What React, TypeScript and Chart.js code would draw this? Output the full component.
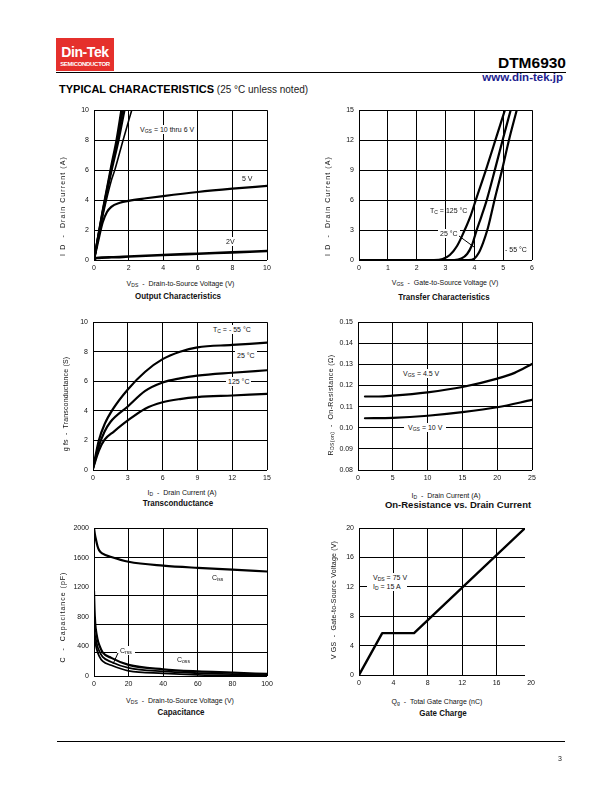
import React, { useEffect, useRef } from "react";
import { Chart, registerables } from "chart.js";

Chart.register(...registerables);

type Pt = [number, number];

// ---------------- Output Characteristics ----------------
const outTicksX = [0, 2, 4, 6, 8, 10];
const outTicksY = [0, 2, 4, 6, 8, 10];
const outVgs10: Pt[] = [[0, 0], [0.5, 3.3], [1.0, 6.3], [1.3, 8.0], [1.58, 10]];
const outVgs8: Pt[] = [[0, 0], [0.5, 3.2], [1.0, 6.1], [1.35, 8.0], [1.66, 10]];
const outVgs7: Pt[] = [[0, 0], [0.5, 3.1], [1.0, 5.9], [1.42, 8.0], [1.76, 10]];
const outVgs6: Pt[] = [[0, 0], [0.5, 2.9], [1.0, 5.3], [1.2, 6.0], [1.68, 8.0], [2.18, 10]];
const outVgs5: Pt[] = [[0, 0], [0.25, 1.3], [0.5, 2.5], [0.75, 3.2], [1.0, 3.55], [1.5, 3.82], [2, 3.95], [3, 4.12], [4, 4.27], [6, 4.54], [8, 4.76], [10, 4.95]];
const outVgs2: Pt[] = [[0, 0], [0.15, 0.13], [1, 0.18], [2, 0.23], [4, 0.33], [6, 0.42], [8, 0.51], [10, 0.6]];

// ---------------- Transfer Characteristics ----------------
const trTicksX = [0, 1, 2, 3, 4, 5, 6];
const trTicksY = [0, 3, 6, 9, 12, 15];
const trTc125: Pt[] = [[0, 0], [2.6, 0], [2.9, 0.1], [3.15, 0.5], [3.4, 1.4], [3.65, 2.9], [3.88, 4.5], [4.05, 6], [4.4, 9], [4.73, 12], [5.06, 15]];
const trTc25: Pt[] = [[0, 0], [3.3, 0], [3.55, 0.15], [3.75, 0.6], [3.92, 1.5], [4.06, 2.8], [4.25, 4.4], [4.43, 6], [4.71, 9], [4.98, 12], [5.26, 15]];
const trTcM55: Pt[] = [[0, 0], [3.8, 0], [4.0, 0.15], [4.15, 0.7], [4.3, 1.7], [4.45, 3], [4.58, 4.5], [4.7, 6], [4.96, 9], [5.2, 12], [5.47, 15]];

// ---------------- Transconductance ----------------
const gfsTicksX = [0, 3, 6, 9, 12, 15];
const gfsTicksY = [0, 2, 4, 6, 8, 10];
const gfsTcM55: Pt[] = [[0, 0.1], [0.5, 2.0], [1, 3.1], [1.7, 4.1], [3, 5.45], [4.5, 6.65], [6, 7.5], [7.5, 8.0], [9, 8.3], [12, 8.46], [15, 8.62]];
const gfsTc25: Pt[] = [[0, 0.1], [0.5, 1.6], [1, 2.6], [1.5, 3.25], [3, 4.3], [4.5, 5.35], [6, 5.92], [7.5, 6.2], [9, 6.38], [12, 6.58], [15, 6.75]];
const gfsTc125: Pt[] = [[0, 0.1], [0.5, 1.3], [1, 2.05], [1.8, 2.6], [3, 3.35], [4.5, 4.15], [6, 4.58], [7.5, 4.8], [9, 4.93], [12, 5.04], [15, 5.15]];

// ---------------- On-Resistance vs Drain Current ----------------
const rdsTicksX = [0, 5, 10, 15, 20, 25];
const rdsTicksY = [0.08, 0.09, 0.1, 0.11, 0.12, 0.13, 0.14, 0.15];
const rdsVgs45: Pt[] = [[1, 0.1148], [3, 0.1148], [5, 0.1152], [10, 0.1168], [15, 0.1193], [20, 0.1233], [22.5, 0.126], [25, 0.1302]];
const rdsVgs10: Pt[] = [[1, 0.1045], [5, 0.1047], [10, 0.1057], [15, 0.1074], [20, 0.1097], [25, 0.1132]];

// ---------------- Capacitance ----------------
const capTicksX = [0, 20, 40, 60, 80, 100];
const capTicksY = [0, 400, 800, 1200, 1600, 2000];
const capGridY = [322, 706, 1100]; // grid lines as printed in the original
const capGridSkip = [400, 800, 1200];
const capCiss: Pt[] = [[0, 2000], [0.5, 1920], [1, 1860], [2, 1760], [3, 1700], [5, 1655], [10, 1610], [20, 1546], [40, 1493], [60, 1463], [80, 1440], [100, 1414]];
const capCoss: Pt[] = [[0, 1150], [0.3, 900], [0.7, 720], [1, 640], [2, 500], [3, 420], [5, 320], [10, 245], [20, 150], [40, 90], [60, 62], [80, 46], [100, 28]];
const capCrssA: Pt[] = [[0, 700], [0.5, 560], [1, 500], [2, 400], [3, 340], [5, 260], [10, 190], [20, 110], [40, 62], [60, 40], [80, 25], [100, 10]];
const capCrssB: Pt[] = [[0, 600], [0.5, 480], [1, 420], [2, 330], [3, 270], [5, 200], [10, 145], [20, 70], [40, 36], [60, 15], [80, 5], [100, 0]];

// ---------------- Gate Charge ----------------
const gcTicksX = [0, 4, 8, 12, 16, 20];
const gcTicksY = [0, 4, 8, 12, 16, 20];
const gcCharge: Pt[] = [[0, 0], [2.7, 5.7], [6.4, 5.7], [19.3, 20]];
const gcXMax = 19.3;

// ---------------- rendering ----------------
const FONT = "'Liberation Sans', Arial, Helvetica, sans-serif";
const INK = "#111";

interface Series { pts: Pt[]; width?: number; smooth?: boolean }
interface PlotSpec {
  left: number; top: number; w: number; h: number;
  xMin: number; xMax: number; yMin: number; yMax: number;
  xTicks: number[]; yTicks: number[]; yDigits?: number;
  series: Series[];
  yGridSkip?: number[]; yGridExtra?: number[];
}

const YW = 36, PT = 6, PR = 16, XH = 18;

function Plot({ spec }: { spec: PlotSpec }) {
  const ref = useRef<HTMLCanvasElement | null>(null);
  const cw = YW + spec.w + PR;
  const ch = PT + spec.h + XH;
  useEffect(() => {
    const canvas = ref.current;
    if (!canvas) return;
    const extraGrid = {
      id: "extraGrid",
      beforeDatasetsDraw(chart: any) {
        if (!spec.yGridExtra) return;
        const { ctx, chartArea: a } = chart;
        const y = chart.scales.y;
        ctx.save();
        ctx.strokeStyle = "#000";
        ctx.lineWidth = 1;
        for (const v of spec.yGridExtra) {
          const py = Math.round(y.getPixelForValue(v)) + 0.5;
          ctx.beginPath();
          ctx.moveTo(a.left, py);
          ctx.lineTo(a.right, py);
          ctx.stroke();
        }
        ctx.restore();
      },
    };
    const tickFont = { family: FONT, size: 7 };
    const chart = new Chart(canvas, {
      type: "line",
      data: {
        datasets: spec.series.map((s) => ({
          data: s.pts.map(([x, y]) => ({ x, y })),
          borderColor: "#000",
          backgroundColor: "#000",
          borderWidth: s.width ?? 2.2,
          pointRadius: 0,
          pointHoverRadius: 0,
          fill: false,
          tension: s.smooth === false ? 0 : 0.4,
          cubicInterpolationMode: s.smooth === false ? "default" : "monotone",
          borderCapStyle: "round",
          borderJoinStyle: "round",
        })),
      },
      options: {
        responsive: false,
        maintainAspectRatio: false,
        animation: false,
        devicePixelRatio: 1,
        events: [],
        layout: { padding: { top: PT, right: PR, bottom: 0, left: 0 } },
        plugins: { legend: { display: false }, tooltip: { enabled: false }, title: { display: false } },
        scales: {
          x: {
            type: "linear",
            position: "bottom",
            min: spec.xMin,
            max: spec.xMax,
            afterFit: (s: any) => { s.height = XH; },
            afterBuildTicks: (s: any) => { s.ticks = spec.xTicks.map((v) => ({ value: v })); },
            ticks: {
              font: tickFont, color: INK, padding: 4, maxRotation: 0, minRotation: 0, autoSkip: false,
              callback: (v: any) => String(v),
            },
            grid: {
              drawTicks: false,
              lineWidth: 1,
              color: (c: any) => (c.tick && c.tick.value > spec.xMax + 1e-9 ? "rgba(0,0,0,0)" : "#000"),
            },
            border: { display: false },
          },
          y: {
            type: "linear",
            position: "left",
            min: spec.yMin,
            max: spec.yMax,
            afterFit: (s: any) => { s.width = YW; },
            afterBuildTicks: (s: any) => { s.ticks = spec.yTicks.map((v) => ({ value: v })); },
            ticks: {
              font: tickFont, color: INK, padding: 5, autoSkip: false,
              callback: (v: any) => (spec.yDigits ? Number(v).toFixed(spec.yDigits) : String(v)),
            },
            grid: {
              drawTicks: false,
              lineWidth: 1,
              color: (c: any) =>
                c.tick && spec.yGridSkip && spec.yGridSkip.some((g) => Math.abs(g - c.tick.value) < 1e-9)
                  ? "rgba(0,0,0,0)"
                  : "#000",
            },
            border: { display: false },
          },
        },
      },
      plugins: [extraGrid],
    } as any);
    return () => chart.destroy();
  }, []);
  return (
    <canvas
      ref={ref}
      width={cw}
      height={ch}
      style={{ position: "absolute", left: spec.left - YW, top: spec.top - PT, width: cw, height: ch }}
    />
  );
}

const Sub = ({ children }: any) => (
  <span style={{ fontSize: "0.72em", verticalAlign: "-0.2em", lineHeight: 0 }}>{children}</span>
);

function Txt({ x, y, s = 7, bg = false, pad = "1px 2px", padL = 2, center = false, bold = false, narrow = false, ls = 0, children }: any) {
  let tf: string | undefined = undefined;
  if (center) tf = "translateX(-50%)";
  if (narrow) tf = (tf ? tf + " " : "") + "scaleX(0.84)";
  return (
    <div
      style={{
        position: "absolute",
        left: x,
        top: y - s / 2,
        fontSize: s,
        lineHeight: `${s}px`,
        fontFamily: FONT,
        fontWeight: bold ? 700 : 400,
        letterSpacing: ls,
        whiteSpace: "nowrap",
        background: bg ? "#fff" : "transparent",
        padding: bg ? pad : 0,
        marginLeft: bg ? -padL : 0,
        marginTop: bg ? -1 : 0,
        transform: tf,
        transformOrigin: "center center",
        color: INK,
      }}
    >
      {children}
    </div>
  );
}

function VTxt({ x, y, s = 7, ls = 0, children }: any) {
  return (
    <div
      style={{
        position: "absolute",
        left: x,
        top: y,
        fontSize: s,
        lineHeight: `${s}px`,
        letterSpacing: ls,
        whiteSpace: "nowrap",
        color: INK,
        transform: "translate(-50%,-50%) rotate(-90deg)",
      }}
    >
      {children}
    </div>
  );
}

const DASH = "\u00a0\u00a0-\u00a0\u00a0";

const plots: PlotSpec[] = [
  {
    left: 94, top: 107, w: 173, h: 153, xMin: 0, xMax: 10, yMin: 0, yMax: 10,
    xTicks: outTicksX, yTicks: outTicksY,
    series: [{ pts: outVgs10 }, { pts: outVgs8 }, { pts: outVgs7 }, { pts: outVgs6, width: 1.6 }, { pts: outVgs5 }, { pts: outVgs2, width: 2.6 }],
  },
  {
    left: 359, top: 107, w: 173, h: 153, xMin: 0, xMax: 6, yMin: 0, yMax: 15,
    xTicks: trTicksX, yTicks: trTicksY,
    series: [{ pts: trTc125 }, { pts: trTc25 }, { pts: trTcM55 }],
  },
  {
    left: 93, top: 319, w: 174, h: 151, xMin: 0, xMax: 15, yMin: 0, yMax: 10,
    xTicks: gfsTicksX, yTicks: gfsTicksY,
    series: [{ pts: gfsTcM55 }, { pts: gfsTc25 }, { pts: gfsTc125 }],
  },
  {
    left: 358, top: 319, w: 174, h: 151, xMin: 0, xMax: 25, yMin: 0.08, yMax: 0.15,
    xTicks: rdsTicksX, yTicks: rdsTicksY, yDigits: 2,
    series: [{ pts: rdsVgs45 }, { pts: rdsVgs10 }],
  },
  {
    left: 94, top: 525, w: 173, h: 151, xMin: 0, xMax: 100, yMin: 0, yMax: 2000,
    xTicks: capTicksX, yTicks: capTicksY, yGridSkip: capGridSkip, yGridExtra: capGridY,
    series: [{ pts: capCiss }, { pts: capCoss }, { pts: capCrssA, width: 1.8 }, { pts: capCrssB, width: 1.8 }],
  },
  {
    left: 359, top: 525, w: 166, h: 150, xMin: 0, xMax: gcXMax, yMin: 0, yMax: 20,
    xTicks: gcTicksX, yTicks: gcTicksY,
    series: [{ pts: gcCharge, smooth: false, width: 2.4 }],
  },
];

export default function App() {
  return (
    <div style={{ position: "absolute", left: 0, top: 0, width: 612, height: 792, background: "#fff", fontFamily: FONT, color: INK, overflow: "hidden" }}>
      {/* header */}
      <div style={{ position: "absolute", left: 56, top: 38, width: 58, height: 33, background: "#e5302c" }}>
        <div style={{ position: "absolute", left: 0, width: 58, top: 7, textAlign: "center", color: "#fff", fontWeight: 700, fontSize: 14, lineHeight: "14px", letterSpacing: -0.4 }}>Din-Tek</div>
        <div style={{ position: "absolute", left: 0, width: 58, top: 23, textAlign: "center", color: "#fff", fontWeight: 700, fontSize: 6, lineHeight: "6px", letterSpacing: -0.3 }}>SEMICONDUCTOR</div>
      </div>
      <div style={{ position: "absolute", left: 56, top: 71.5, width: 510, height: 1.5, background: "#000" }} />
      <div style={{ position: "absolute", right: 46, top: 54.7, fontSize: 15.5, lineHeight: "15.5px", fontWeight: 700, color: "#000" }}>DTM6930</div>
      <div style={{ position: "absolute", right: 49, top: 72, fontSize: 11.5, lineHeight: "11.5px", fontWeight: 700, color: "#1d1d8f" }}>www.din-tek.jp</div>
      <div style={{ position: "absolute", left: 59, top: 84, fontSize: 11, lineHeight: "11px", fontWeight: 700, color: "#000", whiteSpace: "nowrap" }}>
        TYPICAL CHARACTERISTICS<span style={{ fontWeight: 400, fontSize: 10, color: "#222" }}> (25 °C unless noted)</span>
      </div>

      {plots.map((p, i) => (
        <Plot key={i} spec={p} />
      ))}

      {/* chart 1 texts */}
      <VTxt x={62} y={206} ls={1.1}>I D{DASH}Drain Current (A)</VTxt>
      <Txt x={180.5} y={283} center>V<Sub>DS</Sub>{DASH}Drain-to-Source Voltage (V)</Txt>
      <Txt x={178} y={296} center bold narrow s={9.5}>Output Characteristics</Txt>
      <Txt x={140} y={129} bg>V<Sub>GS</Sub> = 10 thru 6 V</Txt>
      <Txt x={242} y={178}>5 V</Txt>
      <Txt x={226} y={241} bg>2V</Txt>

      {/* chart 2 texts */}
      <VTxt x={327} y={206} ls={1.1}>I D{DASH}Drain Current (A)</VTxt>
      <Txt x={445} y={282} center>V<Sub>GS</Sub>{DASH}Gate-to-Source Voltage (V)</Txt>
      <Txt x={444} y={296.5} center bold narrow s={9.5}>Transfer Characteristics</Txt>
      <Txt x={430} y={210}>T<Sub>C</Sub> = 125 °C</Txt>
      <Txt x={440} y={233} bg>25 °C</Txt>
      <Txt x={505} y={249}>- 55 °C</Txt>

      {/* chart 3 texts */}
      <VTxt x={65} y={404} ls={0.15}>g fs{DASH}Transconductance (S)</VTxt>
      <Txt x={182} y={492} center>I<Sub>D</Sub>{DASH}Drain Current (A)</Txt>
      <Txt x={178} y={503} center bold narrow s={9.5}>Transconductance</Txt>
      <Txt x={213} y={329} bg>T<Sub>C</Sub> = - 55 °C</Txt>
      <Txt x={237} y={355} bg>25 °C</Txt>
      <Txt x={228} y={381} bg>125 °C</Txt>

      {/* chart 4 texts */}
      <VTxt x={330} y={405} ls={0.4}>R<Sub>DS(on)</Sub>{DASH}On-Resistance (Ω)</VTxt>
      <Txt x={446} y={495} center>I<Sub>D</Sub>{DASH}Drain Current (A)</Txt>
      <Txt x={458} y={505} center bold s={9.5}>On-Resistance vs. Drain Current</Txt>
      <Txt x={403} y={373} bg>V<Sub>GS</Sub> = 4.5 V</Txt>
      <Txt x={408} y={427} bg pad="1px 4px" padL={4}>V<Sub>GS</Sub> = 10 V</Txt>

      {/* chart 5 texts */}
      <VTxt x={62} y={617} ls={1.0}>C{DASH}Capacitance (pF)</VTxt>
      <Txt x={180} y={700} center>V<Sub>DS</Sub>{DASH}Drain-to-Source Voltage (V)</Txt>
      <Txt x={181} y={712} center bold narrow s={9.5}>Capacitance</Txt>
      <Txt x={212} y={577}>C<Sub>iss</Sub></Txt>
      <Txt x={120} y={650} bg pad="1px 3px" padL={3}>C<Sub>rss</Sub></Txt>
      <Txt x={177} y={659}>C<Sub>oss</Sub></Txt>

      {/* chart 6 texts */}
      <VTxt x={333} y={600} ls={0.2}>V GS{DASH}Gate-to-Source Voltage (V)</VTxt>
      <Txt x={437} y={701} center>Q<Sub>g</Sub>{DASH}Total Gate Charge (nC)</Txt>
      <Txt x={443} y={713} center bold narrow s={9.5}>Gate Charge</Txt>
      <Txt x={373} y={577} bg pad="1px 6px" padL={6}>V<Sub>DS</Sub> = 75 V</Txt>
      <Txt x={373} y={586} bg pad="1px 6px" padL={6}>I<Sub>D</Sub> = 15 A</Txt>

      <svg style={{ position: "absolute", left: 0, top: 0 }} width={612} height={792}>
        <line x1={459} y1={236} x2={474} y2={247} stroke="#000" strokeWidth={1} />
        <line x1={118} y1={653} x2={113} y2={664} stroke="#000" strokeWidth={1} />
      </svg>

      {/* footer */}
      <div style={{ position: "absolute", left: 57, top: 741, width: 508, height: 1, background: "#000" }} />
      <div style={{ position: "absolute", left: 558, top: 754.5, fontSize: 7, lineHeight: "7px", color: "#222" }}>3</div>
    </div>
  );
}
